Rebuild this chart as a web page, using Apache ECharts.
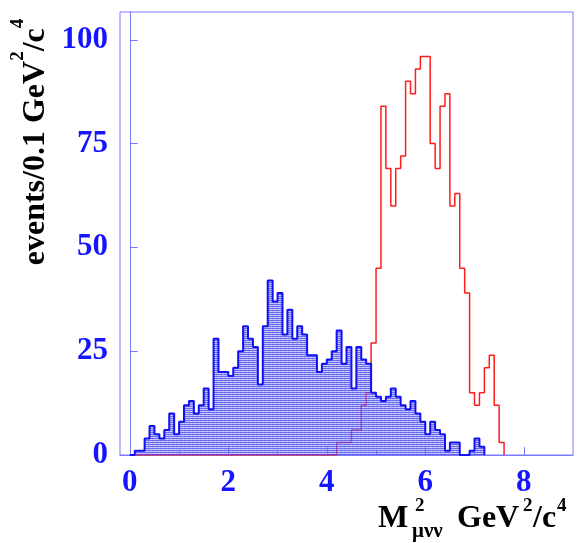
<!DOCTYPE html>
<html>
<head>
    <meta charset="utf-8">
    <title>M2 mu nu nu</title>
    <script src="https://cdn.jsdelivr.net/npm/echarts@6/dist/echarts.min.js"></script>
    <style>
        html, body { margin: 0; padding: 0; background: #fff; }
        #chart { width: 580px; height: 543px; }
    </style>
</head>
<body>
<div id="chart"></div>
<script type="text/javascript">
    // histogram contents, 0.1 GeV^2/c^4 bins
    var binWidth = 0.1;
    var blueStart = 0.1;
    var blueCounts = [1, 1, 4, 7, 5, 4, 6, 10, 5, 8,
        12, 13, 10, 12, 16, 11, 28, 20, 20, 19,
        21, 25, 31, 28, 26, 17, 31, 42, 37, 39,
        29, 35, 28, 31, 29, 24, 24, 20, 22, 23,
        25, 30, 22, 26, 16, 26, 23, 22, 15, 14,
        13, 14, 16, 14, 12, 11, 13, 10, 8, 5,
        8, 6, 5, 1, 3, 3, 0, 0, 1, 4,
        2];
    var redStart = 4.2;
    var redCounts = [3, 3, 3, 6, 6, 12, 15, 27, 45, 84,
        69, 60, 69, 72, 90, 87, 93, 96, 96, 75,
        69, 84, 87, 60, 63, 45, 39, 15, 12, 15,
        21, 24, 12, 3];
    var xLabels = [0, 2, 4, 6, 8];
    var xMinor = [1, 3, 5, 7];
    var yLabels = [0, 25, 50, 75, 100];

    var serif = "'Liberation Serif', 'Times New Roman', serif";
    var labelBlue = '#1414ff';
    var frameBlue = '#7a7aff';

    // left bin edges -> step points
    function steps(start, counts) {
        var pts = [[0, 0]];
        counts.forEach(function (v, i) {
            pts.push([+(start + i * binWidth).toFixed(2), v]);
        });
        pts.push([+(start + counts.length * binWidth).toFixed(2), 0]);
        return pts;
    }

    // fine horizontal hatching like the ROOT fill style
    function hatch() {
        var c = document.createElement('canvas');
        c.width = 4;
        c.height = 2;
        var g = c.getContext('2d');
        g.fillStyle = 'rgba(70,70,238,0.8)';
        g.fillRect(0, 0, 4, 1);
        g.fillStyle = 'rgba(140,140,246,0.6)';
        g.fillRect(0, 1, 2, 1);
        g.fillStyle = 'rgba(165,165,250,0.55)';
        g.fillRect(2, 1, 2, 1);
        return c;
    }

    var myChart = echarts.init(document.getElementById('chart'), null, {renderer: 'canvas'});
    var axisStyle = {color: frameBlue, width: 1};
    var option = {
        animation: false,
        grid: {left: 120, right: 7, top: 12, bottom: 88, show: true, borderColor: frameBlue, borderWidth: 1},
        xAxis: [{
            type: 'value', min: -0.2, max: 9, position: 'bottom',
            axisLine: {lineStyle: axisStyle},
            axisTick: {inside: true, length: 8, customValues: xLabels, lineStyle: axisStyle},
            axisLabel: {customValues: xLabels, color: labelBlue, fontFamily: serif, fontWeight: 'bold', fontSize: 31, margin: 12},
            splitLine: {show: false}
        }, {
            type: 'value', min: -0.2, max: 9, position: 'bottom',
            axisLine: {show: false},
            axisTick: {inside: true, length: 4, customValues: xMinor, lineStyle: axisStyle},
            axisLabel: {show: false},
            splitLine: {show: false}
        }],
        yAxis: {
            type: 'value', min: 0, max: 106.7,
            axisLine: {show: true, lineStyle: axisStyle},
            axisTick: {show: true, inside: true, length: 8, customValues: yLabels, lineStyle: axisStyle},
            axisLabel: {customValues: yLabels, color: labelBlue, fontFamily: serif, fontWeight: 'bold', fontSize: 31, margin: 12},
            splitLine: {show: false}
        },
        series: [{
            name: 'red', type: 'line', step: 'end', showSymbol: false,
            data: steps(redStart, redCounts),
            lineStyle: {color: '#ff1c1c', width: 1.5},
            z: 2
        }, {
            name: 'blue', type: 'line', step: 'end', showSymbol: false,
            data: steps(blueStart, blueCounts),
            lineStyle: {color: '#1010f5', width: 2},
            areaStyle: {color: {image: hatch(), repeat: 'repeat'}, opacity: 1},
            z: 3
        }],
        graphic: [{
            type: 'text', x: 36, y: 142, rotation: Math.PI / 2,
            style: {
                text: '{a|events/0.1 GeV}{s|2}{a|/c}{s|4}',
                align: 'center', verticalAlign: 'middle',
                rich: {
                    a: {fontFamily: serif, fontWeight: 'bold', fontSize: 32, lineHeight: 54, fill: '#000'},
                    s: {fontFamily: serif, fontWeight: 'bold', fontSize: 19, lineHeight: 22, verticalAlign: 'top', fill: '#000'}
                }
            }
        },
        {type: 'text', x: 378, y: 519, style: {text: 'M', fontFamily: serif, fontWeight: 'bold', fontSize: 32, fill: '#000', verticalAlign: 'middle'}},
        {type: 'text', x: 415, y: 506, style: {text: '2', fontFamily: serif, fontWeight: 'bold', fontSize: 19, fill: '#000', verticalAlign: 'middle'}},
        {type: 'text', x: 412, y: 532, style: {text: 'μνν', fontFamily: serif, fontWeight: 'bold', fontSize: 21, fill: '#000', verticalAlign: 'middle'}},
        {type: 'text', x: 457, y: 519, style: {text: 'GeV', fontFamily: serif, fontWeight: 'bold', fontSize: 32, fill: '#000', verticalAlign: 'middle'}},
        {type: 'text', x: 523, y: 506, style: {text: '2', fontFamily: serif, fontWeight: 'bold', fontSize: 19, fill: '#000', verticalAlign: 'middle'}},
        {type: 'text', x: 533, y: 519, style: {text: '/c', fontFamily: serif, fontWeight: 'bold', fontSize: 32, fill: '#000', verticalAlign: 'middle'}},
        {type: 'text', x: 557, y: 506, style: {text: '4', fontFamily: serif, fontWeight: 'bold', fontSize: 19, fill: '#000', verticalAlign: 'middle'}}
        ]
    };
    myChart.setOption(option);
</script>
</body>
</html>
